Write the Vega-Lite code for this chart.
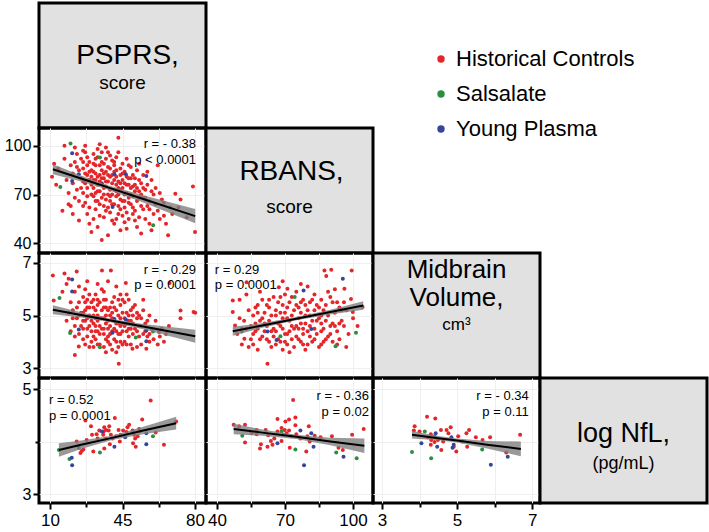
{
"$schema":"https://vega.github.io/schema/vega-lite/v6.json",
"padding":{"left":2,"top":1,"right":2,"bottom":2},
"config":{"font":"Liberation Sans","view":{"stroke":"black","strokeWidth":3},
"axis":{"domain":false,"grid":true,"gridColor":"#efefef","tickColor":"black","tickWidth":2,"labelColor":"black","labelFontSize":16,"labelPadding":2},
"axisX":{"labelFontSize":17,"labelPadding":3},
"concat":{"spacing":0}},
"datasets":{
"A":[{"x":12,"y":89,"g":"H"},{"x":11,"y":81,"g":"H"},{"x":17,"y":100,"g":"H"},{"x":16,"y":60,"g":"H"},{"x":14,"y":86,"g":"H"},{"x":18,"y":79,"g":"H"},{"x":19,"y":71,"g":"H"},{"x":20,"y":88,"g":"H"},{"x":17,"y":92,"g":"H"},{"x":19,"y":64,"g":"H"},{"x":13,"y":76,"g":"H"},
{"x":20,"y":63,"g":"H"},{"x":21,"y":83,"g":"H"},{"x":22,"y":90,"g":"H"},{"x":23,"y":73,"g":"H"},{"x":24,"y":54,"g":"H"},{"x":21,"y":77,"g":"H"},{"x":23,"y":95,"g":"H"},{"x":24,"y":85,"g":"H"},{"x":22,"y":68,"g":"H"},{"x":25,"y":80,"g":"H"},{"x":25,"y":92,"g":"H"},{"x":24,"y":66,"g":"H"},{"x":22,"y":99,"g":"H"},{"x":23,"y":87,"g":"H"},{"x":25,"y":74,"g":"H"},{"x":21,"y":58,"g":"H"},
{"x":26,"y":97,"g":"H"},{"x":27,"y":83,"g":"H"},{"x":28,"y":88,"g":"H"},{"x":26,"y":71,"g":"H"},{"x":29,"y":79,"g":"H"},{"x":27,"y":65,"g":"H"},{"x":28,"y":93,"g":"H"},{"x":30,"y":85,"g":"H"},{"x":29,"y":62,"g":"H"},{"x":26,"y":78,"g":"H"},{"x":27,"y":100,"g":"H"},{"x":28,"y":74,"g":"H"},{"x":30,"y":47,"g":"H"},{"x":29,"y":90,"g":"H"},{"x":26,"y":86,"g":"H"},{"x":28,"y":58,"g":"H"},{"x":30,"y":70,"g":"H"},{"x":27,"y":96,"g":"H"},{"x":29,"y":52,"g":"H"},{"x":30,"y":81,"g":"H"},{"x":26,"y":63,"g":"H"},{"x":28,"y":82,"g":"H"},
{"x":31,"y":95,"g":"H"},{"x":32,"y":88,"g":"H"},{"x":33,"y":76,"g":"H"},{"x":31,"y":69,"g":"H"},{"x":34,"y":82,"g":"H"},{"x":32,"y":61,"g":"H"},{"x":33,"y":98,"g":"H"},{"x":34,"y":72,"g":"H"},{"x":35,"y":90,"g":"H"},{"x":31,"y":84,"g":"H"},{"x":32,"y":79,"g":"H"},{"x":33,"y":66,"g":"H"},{"x":34,"y":57,"g":"H"},{"x":35,"y":85,"g":"H"},{"x":31,"y":74,"g":"H"},{"x":32,"y":92,"g":"H"},{"x":33,"y":81,"g":"H"},{"x":34,"y":88,"g":"H"},{"x":35,"y":68,"g":"H"},{"x":31,"y":55,"g":"H"},{"x":33,"y":93,"g":"H"},{"x":34,"y":64,"g":"H"},{"x":35,"y":77,"g":"H"},{"x":32,"y":71,"g":"H"},{"x":35,"y":96,"g":"H"},{"x":33,"y":50,"g":"H"},{"x":31,"y":79,"g":"H"},{"x":34,"y":101,"g":"H"},{"x":32,"y":83,"g":"H"},
{"x":36,"y":80,"g":"H"},{"x":37,"y":92,"g":"H"},{"x":38,"y":70,"g":"H"},{"x":36,"y":63,"g":"H"},{"x":39,"y":86,"g":"H"},{"x":37,"y":75,"g":"H"},{"x":38,"y":96,"g":"H"},{"x":40,"y":82,"g":"H"},{"x":39,"y":59,"g":"H"},{"x":36,"y":89,"g":"H"},{"x":37,"y":67,"g":"H"},{"x":38,"y":78,"g":"H"},{"x":39,"y":73,"g":"H"},{"x":40,"y":91,"g":"H"},{"x":36,"y":56,"g":"H"},{"x":37,"y":84,"g":"H"},{"x":38,"y":62,"g":"H"},{"x":39,"y":94,"g":"H"},{"x":40,"y":70,"g":"H"},{"x":36,"y":74,"g":"H"},{"x":38,"y":87,"g":"H"},{"x":39,"y":66,"g":"H"},{"x":40,"y":54,"g":"H"},{"x":37,"y":99,"g":"H"},{"x":36,"y":83,"g":"H"},{"x":38,"y":45,"g":"H"},{"x":40,"y":77,"g":"H"},{"x":39,"y":81,"g":"H"},{"x":37,"y":60,"g":"H"},{"x":35,"y":42,"g":"H"},
{"x":41,"y":88,"g":"H"},{"x":42,"y":76,"g":"H"},{"x":43,"y":70,"g":"H"},{"x":41,"y":64,"g":"H"},{"x":44,"y":82,"g":"H"},{"x":42,"y":93,"g":"H"},{"x":43,"y":58,"g":"H"},{"x":45,"y":79,"g":"H"},{"x":44,"y":67,"g":"H"},{"x":41,"y":73,"g":"H"},{"x":42,"y":85,"g":"H"},{"x":43,"y":96,"g":"H"},{"x":44,"y":61,"g":"H"},{"x":45,"y":89,"g":"H"},{"x":41,"y":52,"g":"H"},{"x":42,"y":69,"g":"H"},{"x":43,"y":78,"g":"H"},{"x":45,"y":74,"g":"H"},{"x":44,"y":48,"g":"H"},{"x":42,"y":81,"g":"H"},{"x":43,"y":63,"g":"H"},{"x":41,"y":90,"g":"H"},{"x":45,"y":57,"g":"H"},{"x":44,"y":86,"g":"H"},{"x":43,"y":105,"g":"H"},{"x":42,"y":55,"g":"H"},{"x":44,"y":73,"g":"H"},{"x":41,"y":79,"g":"H"},{"x":45,"y":66,"g":"H"},
{"x":46,"y":84,"g":"H"},{"x":47,"y":71,"g":"H"},{"x":48,"y":65,"g":"H"},{"x":46,"y":77,"g":"H"},{"x":49,"y":80,"g":"H"},{"x":47,"y":59,"g":"H"},{"x":48,"y":88,"g":"H"},{"x":50,"y":69,"g":"H"},{"x":49,"y":74,"g":"H"},{"x":46,"y":62,"g":"H"},{"x":47,"y":92,"g":"H"},{"x":48,"y":55,"g":"H"},{"x":50,"y":82,"g":"H"},{"x":49,"y":64,"g":"H"},{"x":46,"y":70,"g":"H"},{"x":48,"y":76,"g":"H"},{"x":50,"y":58,"g":"H"},{"x":47,"y":49,"g":"H"},{"x":49,"y":87,"g":"H"},{"x":46,"y":53,"g":"H"},{"x":48,"y":68,"g":"H"},{"x":50,"y":75,"g":"H"},{"x":47,"y":81,"g":"H"},
{"x":51,"y":72,"g":"H"},{"x":52,"y":66,"g":"H"},{"x":53,"y":79,"g":"H"},{"x":51,"y":60,"g":"H"},{"x":54,"y":70,"g":"H"},{"x":52,"y":85,"g":"H"},{"x":53,"y":56,"g":"H"},{"x":55,"y":74,"g":"H"},{"x":54,"y":63,"g":"H"},{"x":51,"y":80,"g":"H"},{"x":52,"y":50,"g":"H"},{"x":53,"y":68,"g":"H"},{"x":55,"y":82,"g":"H"},{"x":54,"y":77,"g":"H"},{"x":51,"y":54,"g":"H"},{"x":55,"y":61,"g":"H"},{"x":52,"y":74,"g":"H"},{"x":53,"y":89,"g":"H"},{"x":54,"y":46,"g":"H"},
{"x":56,"y":68,"g":"H"},{"x":57,"y":76,"g":"H"},{"x":58,"y":61,"g":"H"},{"x":56,"y":55,"g":"H"},{"x":59,"y":72,"g":"H"},{"x":57,"y":84,"g":"H"},{"x":58,"y":66,"g":"H"},{"x":60,"y":58,"g":"H"},{"x":59,"y":79,"g":"H"},{"x":56,"y":73,"g":"H"},{"x":60,"y":70,"g":"H"},{"x":58,"y":52,"g":"H"},{"x":57,"y":63,"g":"H"},{"x":59,"y":48,"g":"H"},
{"x":62,"y":88,"g":"H"},{"x":61,"y":64,"g":"H"},{"x":63,"y":71,"g":"H"},{"x":65,"y":57,"g":"H"},{"x":62,"y":60,"g":"H"},{"x":64,"y":67,"g":"H"},{"x":66,"y":52,"g":"H"},{"x":68,"y":62,"g":"H"},{"x":61,"y":74,"g":"H"},{"x":63,"y":55,"g":"H"},{"x":67,"y":45,"g":"H"},{"x":65,"y":65,"g":"H"},{"x":69,"y":58,"g":"H"},
{"x":70.5,"y":70.5,"g":"H"},{"x":73,"y":67,"g":"H"},{"x":79,"y":75,"g":"H"},{"x":80,"y":47,"g":"H"},{"x":76,"y":56,"g":"H"},{"x":72,"y":62,"g":"H"},
{"x":27,"y":77,"g":"H"},{"x":29,"y":84,"g":"H"},{"x":31,"y":89,"g":"H"},{"x":33,"y":72,"g":"H"},{"x":35,"y":80,"g":"H"},{"x":37,"y":78,"g":"H"},{"x":39,"y":69,"g":"H"},{"x":41,"y":84,"g":"H"},{"x":43,"y":74,"g":"H"},{"x":45,"y":83,"g":"H"},{"x":47,"y":76,"g":"H"},{"x":49,"y":70,"g":"H"},{"x":51,"y":76,"g":"H"},{"x":53,"y":72,"g":"H"},{"x":55,"y":68,"g":"H"},{"x":30,"y":76,"g":"H"},{"x":34,"y":78,"g":"H"},{"x":38,"y":82,"g":"H"},{"x":42,"y":72,"g":"H"},{"x":46,"y":66,"g":"H"},{"x":50,"y":62,"g":"H"},{"x":36,"y":70,"g":"H"},{"x":40,"y":64,"g":"H"},{"x":44,"y":77,"g":"H"},{"x":48,"y":80,"g":"H"},{"x":32,"y":66,"g":"H"},{"x":28,"y":69,"g":"H"},{"x":26,"y":90,"g":"H"},
{"x":19.9,"y":101.4,"g":"S"},{"x":15,"y":74.6,"g":"S"},{"x":34.1,"y":92.8,"g":"S"},{"x":59.8,"y":51.1,"g":"S"},
{"x":20.7,"y":95.5,"g":"Y"},{"x":23.9,"y":82.5,"g":"Y"},{"x":20.7,"y":78.4,"g":"Y"},{"x":35.1,"y":76.3,"g":"Y"},{"x":41.1,"y":82.5,"g":"Y"},{"x":46.6,"y":82.5,"g":"Y"},{"x":56.5,"y":81.4,"g":"Y"},{"x":40.2,"y":62.3,"g":"Y"}],
"B":[{"x":11.4,"y":6.52,"g":"H"},{"x":11.8,"y":5.57,"g":"H"},{"x":17,"y":6.6,"g":"H"},{"x":18,"y":6.2,"g":"H"},{"x":19,"y":5.1,"g":"H"},{"x":16,"y":5.9,"g":"H"},{"x":19,"y":6.4,"g":"H"},{"x":20,"y":5.5,"g":"H"},{"x":18,"y":4.8,"g":"H"},{"x":20,"y":4.4,"g":"H"},
{"x":22.9,"y":6.68,"g":"H"},{"x":23.9,"y":3.82,"g":"H"},{"x":21,"y":5.2,"g":"H"},{"x":22,"y":5.9,"g":"H"},{"x":23,"y":4.9,"g":"H"},{"x":24,"y":5.5,"g":"H"},{"x":25,"y":4.6,"g":"H"},{"x":21,"y":4.9,"g":"H"},{"x":22,"y":4.2,"g":"H"},{"x":24,"y":6.1,"g":"H"},{"x":25,"y":5.1,"g":"H"},{"x":23,"y":5.3,"g":"H"},{"x":24,"y":4.3,"g":"H"},{"x":22,"y":3.5,"g":"H"},
{"x":26,"y":5.7,"g":"H"},{"x":27,"y":4.8,"g":"H"},{"x":28,"y":5.3,"g":"H"},{"x":26,"y":4.5,"g":"H"},{"x":29,"y":5.0,"g":"H"},{"x":27,"y":6.0,"g":"H"},{"x":28,"y":4.2,"g":"H"},{"x":30,"y":5.5,"g":"H"},{"x":29,"y":4.6,"g":"H"},{"x":26,"y":5.1,"g":"H"},{"x":27,"y":3.9,"g":"H"},{"x":28,"y":4.9,"g":"H"},{"x":30,"y":4.4,"g":"H"},{"x":29,"y":5.8,"g":"H"},{"x":26,"y":4.1,"g":"H"},{"x":28,"y":5.6,"g":"H"},{"x":30,"y":4.0,"g":"H"},{"x":27,"y":5.2,"g":"H"},{"x":29,"y":3.8,"g":"H"},
{"x":31,"y":5.0,"g":"H"},{"x":32,"y":4.6,"g":"H"},{"x":33,"y":5.4,"g":"H"},{"x":31,"y":4.2,"g":"H"},{"x":34,"y":4.9,"g":"H"},{"x":32,"y":5.8,"g":"H"},{"x":33,"y":4.4,"g":"H"},{"x":35,"y":5.2,"g":"H"},{"x":34,"y":3.9,"g":"H"},{"x":31,"y":5.6,"g":"H"},{"x":32,"y":4.1,"g":"H"},{"x":33,"y":4.8,"g":"H"},{"x":35,"y":4.5,"g":"H"},{"x":34,"y":5.5,"g":"H"},{"x":31,"y":3.8,"g":"H"},{"x":33,"y":5.0,"g":"H"},{"x":35,"y":6.0,"g":"H"},{"x":32,"y":5.2,"g":"H"},{"x":34,"y":4.3,"g":"H"},{"x":35.1,"y":6.71,"g":"H"},{"x":31,"y":4.7,"g":"H"},{"x":33,"y":3.9,"g":"H"},{"x":32,"y":4.9,"g":"H"},
{"x":36,"y":5.3,"g":"H"},{"x":37,"y":4.7,"g":"H"},{"x":38,"y":4.2,"g":"H"},{"x":36,"y":4.5,"g":"H"},{"x":39,"y":5.0,"g":"H"},{"x":37,"y":5.6,"g":"H"},{"x":38,"y":4.8,"g":"H"},{"x":40,"y":4.4,"g":"H"},{"x":39,"y":3.9,"g":"H"},{"x":36,"y":5.9,"g":"H"},{"x":37,"y":4.1,"g":"H"},{"x":38,"y":5.2,"g":"H"},{"x":40,"y":5.5,"g":"H"},{"x":39,"y":4.6,"g":"H"},{"x":36,"y":3.8,"g":"H"},{"x":38,"y":4.0,"g":"H"},{"x":39.4,"y":6.71,"g":"H"},{"x":40,"y":4.9,"g":"H"},{"x":37,"y":5.0,"g":"H"},{"x":36,"y":4.3,"g":"H"},{"x":38,"y":6.3,"g":"H"},{"x":39,"y":5.3,"g":"H"},{"x":40,"y":3.7,"g":"H"},{"x":37,"y":3.6,"g":"H"},
{"x":41,"y":4.8,"g":"H"},{"x":42,"y":5.2,"g":"H"},{"x":43,"y":4.3,"g":"H"},{"x":41,"y":5.7,"g":"H"},{"x":44,"y":4.6,"g":"H"},{"x":42,"y":4.0,"g":"H"},{"x":43,"y":5.0,"g":"H"},{"x":45,"y":4.4,"g":"H"},{"x":44,"y":5.4,"g":"H"},{"x":41,"y":4.1,"g":"H"},{"x":42,"y":4.7,"g":"H"},{"x":43,"y":3.8,"g":"H"},{"x":45,"y":5.1,"g":"H"},{"x":44,"y":4.0,"g":"H"},{"x":43.2,"y":3.16,"g":"H"},{"x":41,"y":5.3,"g":"H"},{"x":42,"y":6.1,"g":"H"},{"x":45,"y":3.9,"g":"H"},{"x":44,"y":4.9,"g":"H"},{"x":43,"y":5.6,"g":"H"},{"x":42,"y":3.6,"g":"H"},{"x":45,"y":4.7,"g":"H"},
{"x":46,"y":4.6,"g":"H"},{"x":47,"y":5.1,"g":"H"},{"x":48,"y":4.2,"g":"H"},{"x":46,"y":5.5,"g":"H"},{"x":49,"y":4.5,"g":"H"},{"x":47,"y":3.9,"g":"H"},{"x":48,"y":4.8,"g":"H"},{"x":50,"y":4.3,"g":"H"},{"x":49,"y":5.2,"g":"H"},{"x":46.6,"y":6.24,"g":"H"},{"x":47,"y":4.4,"g":"H"},{"x":48,"y":5.6,"g":"H"},{"x":50,"y":4.7,"g":"H"},{"x":46,"y":4.0,"g":"H"},{"x":49,"y":3.9,"g":"H"},{"x":49.8,"y":3.73,"g":"H"},{"x":48,"y":5.0,"g":"H"},{"x":47,"y":5.8,"g":"H"},{"x":50,"y":5.3,"g":"H"},
{"x":51,"y":4.5,"g":"H"},{"x":52,"y":4.9,"g":"H"},{"x":53,"y":4.2,"g":"H"},{"x":54,"y":4.6,"g":"H"},{"x":55,"y":5.2,"g":"H"},{"x":52,"y":3.8,"g":"H"},{"x":53,"y":5.0,"g":"H"},{"x":56,"y":4.4,"g":"H"},{"x":57,"y":4.8,"g":"H"},{"x":58,"y":4.0,"g":"H"},{"x":56.5,"y":3.73,"g":"H"},{"x":55,"y":4.3,"g":"H"},{"x":51,"y":5.4,"g":"H"},{"x":54,"y":3.9,"g":"H"},{"x":59,"y":4.5,"g":"H"},{"x":58,"y":5.0,"g":"H"},{"x":53,"y":4.6,"g":"H"},{"x":57,"y":4.2,"g":"H"},{"x":60,"y":4.1,"g":"H"},{"x":55,"y":5.6,"g":"H"},{"x":52,"y":4.4,"g":"H"},
{"x":62.6,"y":4.37,"g":"H"},{"x":61,"y":4.8,"g":"H"},{"x":63,"y":4.2,"g":"H"},{"x":64,"y":4.5,"g":"H"},{"x":67.4,"y":4.6,"g":"H"},{"x":67.7,"y":6.24,"g":"H"},{"x":73,"y":5.19,"g":"H"},{"x":73,"y":4.9,"g":"H"},{"x":79.3,"y":5.13,"g":"H"},{"x":80.1,"y":5.1,"g":"H"},{"x":62,"y":3.9,"g":"H"},{"x":65,"y":4.0,"g":"H"},{"x":66,"y":4.3,"g":"H"},
{"x":26,"y":4.8,"g":"H"},{"x":27,"y":5.5,"g":"H"},{"x":28,"y":4.5,"g":"H"},{"x":29,"y":5.3,"g":"H"},{"x":30,"y":4.8,"g":"H"},{"x":31,"y":5.3,"g":"H"},{"x":32,"y":4.4,"g":"H"},{"x":33,"y":5.6,"g":"H"},{"x":34,"y":4.6,"g":"H"},{"x":35,"y":4.9,"g":"H"},{"x":36,"y":4.9,"g":"H"},{"x":37,"y":5.3,"g":"H"},{"x":38,"y":4.5,"g":"H"},{"x":39,"y":4.3,"g":"H"},{"x":40,"y":5.1,"g":"H"},{"x":41,"y":4.5,"g":"H"},{"x":42,"y":4.4,"g":"H"},{"x":43,"y":4.7,"g":"H"},{"x":44,"y":4.3,"g":"H"},{"x":45,"y":5.6,"g":"H"},{"x":46,"y":4.9,"g":"H"},{"x":47,"y":4.7,"g":"H"},{"x":48,"y":4.5,"g":"H"},{"x":49,"y":4.8,"g":"H"},{"x":50,"y":5.0,"g":"H"},{"x":52,"y":5.1,"g":"H"},{"x":54,"y":4.9,"g":"H"},{"x":56,"y":4.7,"g":"H"},{"x":58,"y":4.3,"g":"H"},{"x":24,"y":5.0,"g":"H"},{"x":22,"y":4.6,"g":"H"},{"x":36,"y":5.6,"g":"H"},{"x":44,"y":5.8,"g":"H"},{"x":28,"y":6.3,"g":"H"},{"x":33,"y":6.2,"g":"H"},
{"x":14.6,"y":5.67,"g":"S"},{"x":19.7,"y":4.33,"g":"S"},{"x":34.1,"y":3.79,"g":"S"},{"x":51.4,"y":4.16,"g":"S"},{"x":59.7,"y":4.39,"g":"S"},
{"x":20.7,"y":6.37,"g":"Y"},{"x":20.7,"y":5.91,"g":"Y"},{"x":23.9,"y":4.47,"g":"Y"},{"x":41.1,"y":4.87,"g":"Y"},{"x":40.2,"y":4.34,"g":"Y"},{"x":46.6,"y":4.85,"g":"Y"},{"x":56.5,"y":4.43,"g":"Y"},{"x":56.5,"y":4.02,"g":"Y"}],
"C":[{"x":47,"y":5.57,"g":"H"},{"x":47,"y":5.13,"g":"H"},{"x":53.1,"y":6.27,"g":"H"},{"x":48,"y":4.62,"g":"H"},{"x":52.1,"y":4.11,"g":"H"},{"x":50,"y":4.9,"g":"H"},{"x":51,"y":3.9,"g":"H"},{"x":53,"y":4.5,"g":"H"},{"x":54,"y":5.2,"g":"H"},{"x":49,"y":4.3,"g":"H"},{"x":52,"y":4.8,"g":"H"},{"x":54,"y":3.8,"g":"H"},{"x":55,"y":4.6,"g":"H"},{"x":50,"y":5.6,"g":"H"},{"x":53,"y":5.8,"g":"H"},{"x":55,"y":4.1,"g":"H"},{"x":51,"y":4.5,"g":"H"},
{"x":56,"y":5.0,"g":"H"},{"x":57,"y":4.4,"g":"H"},{"x":58,"y":5.4,"g":"H"},{"x":56,"y":3.9,"g":"H"},{"x":59,"y":4.8,"g":"H"},{"x":60,"y":4.2,"g":"H"},{"x":61,"y":5.1,"g":"H"},{"x":58,"y":3.7,"g":"H"},{"x":62,"y":4.6,"g":"H"},{"x":60,"y":5.6,"g":"H"},{"x":63,"y":4.0,"g":"H"},{"x":64,"y":5.0,"g":"H"},{"x":57,"y":4.7,"g":"H"},{"x":59,"y":5.9,"g":"H"},{"x":62.3,"y":3.16,"g":"H"},{"x":61,"y":4.4,"g":"H"},{"x":63,"y":5.3,"g":"H"},{"x":65,"y":4.5,"g":"H"},{"x":64,"y":3.8,"g":"H"},{"x":60,"y":4.9,"g":"H"},{"x":58,"y":5.1,"g":"H"},{"x":62,"y":4.1,"g":"H"},{"x":65,"y":5.7,"g":"H"},{"x":56,"y":4.3,"g":"H"},{"x":63,"y":4.8,"g":"H"},
{"x":66,"y":5.2,"g":"H"},{"x":67.3,"y":6.08,"g":"H"},{"x":68,"y":4.6,"g":"H"},{"x":66,"y":3.9,"g":"H"},{"x":69,"y":5.4,"g":"H"},{"x":70,"y":4.3,"g":"H"},{"x":71.1,"y":6.02,"g":"H"},{"x":72,"y":4.8,"g":"H"},{"x":67,"y":5.5,"g":"H"},{"x":70,"y":5.8,"g":"H"},{"x":73,"y":4.1,"g":"H"},{"x":74,"y":5.2,"g":"H"},{"x":68,"y":4.0,"g":"H"},{"x":71,"y":4.9,"g":"H"},{"x":69,"y":3.7,"g":"H"},{"x":72,"y":5.5,"g":"H"},{"x":75,"y":4.6,"g":"H"},{"x":66,"y":4.4,"g":"H"},{"x":73,"y":5.0,"g":"H"},{"x":70,"y":4.0,"g":"H"},{"x":74,"y":3.8,"g":"H"},{"x":67,"y":4.7,"g":"H"},{"x":75,"y":5.9,"g":"H"},{"x":71,"y":4.3,"g":"H"},{"x":72,"y":3.6,"g":"H"},{"x":68,"y":5.1,"g":"H"},{"x":69,"y":4.5,"g":"H"},
{"x":76,"y":5.3,"g":"H"},{"x":77,"y":4.7,"g":"H"},{"x":78,"y":5.6,"g":"H"},{"x":76,"y":4.1,"g":"H"},{"x":79,"y":5.0,"g":"H"},{"x":80,"y":4.4,"g":"H"},{"x":81,"y":5.5,"g":"H"},{"x":78,"y":3.9,"g":"H"},{"x":82,"y":4.8,"g":"H"},{"x":80,"y":6.1,"g":"H"},{"x":83,"y":5.2,"g":"H"},{"x":84,"y":4.3,"g":"H"},{"x":77,"y":5.1,"g":"H"},{"x":79,"y":3.7,"g":"H"},{"x":81,"y":4.6,"g":"H"},{"x":83,"y":5.8,"g":"H"},{"x":85,"y":4.9,"g":"H"},{"x":76,"y":4.5,"g":"H"},{"x":82,"y":4.0,"g":"H"},{"x":84,"y":5.4,"g":"H"},{"x":78,"y":4.5,"g":"H"},{"x":80,"y":5.2,"g":"H"},{"x":85,"y":3.8,"g":"H"},{"x":77,"y":4.0,"g":"H"},{"x":83,"y":4.5,"g":"H"},{"x":79,"y":5.4,"g":"H"},
{"x":86,"y":5.0,"g":"H"},{"x":87.4,"y":6.71,"g":"H"},{"x":88.2,"y":6.5,"g":"H"},{"x":90.4,"y":6.74,"g":"H"},{"x":87,"y":4.5,"g":"H"},{"x":88,"y":5.4,"g":"H"},{"x":89,"y":4.2,"g":"H"},{"x":90,"y":5.7,"g":"H"},{"x":91,"y":4.7,"g":"H"},{"x":86,"y":3.9,"g":"H"},{"x":92,"y":5.1,"g":"H"},{"x":93,"y":4.4,"g":"H"},{"x":89,"y":5.9,"g":"H"},{"x":94,"y":5.3,"g":"H"},{"x":87,"y":4.0,"g":"H"},{"x":91,"y":5.5,"g":"H"},{"x":93,"y":3.9,"g":"H"},{"x":86,"y":5.6,"g":"H"},{"x":90,"y":4.3,"g":"H"},{"x":95,"y":4.8,"g":"H"},{"x":88,"y":4.8,"g":"H"},{"x":92,"y":6.0,"g":"H"},{"x":94,"y":4.1,"g":"H"},
{"x":96.2,"y":6.02,"g":"H"},{"x":99.1,"y":5.63,"g":"H"},{"x":99.9,"y":5.13,"g":"H"},{"x":99.4,"y":6.71,"g":"H"},{"x":104.2,"y":5.32,"g":"H"},{"x":96,"y":4.6,"g":"H"},{"x":97,"y":5.2,"g":"H"},{"x":98,"y":4.3,"g":"H"},{"x":100,"y":4.9,"g":"H"},{"x":97,"y":3.8,"g":"H"},{"x":102,"y":4.6,"g":"H"},{"x":96,"y":5.5,"g":"H"},
{"x":57,"y":5.3,"g":"H"},{"x":59,"y":4.1,"g":"H"},{"x":61,"y":4.7,"g":"H"},{"x":63,"y":5.6,"g":"H"},{"x":65,"y":4.2,"g":"H"},{"x":66,"y":5.0,"g":"H"},{"x":67,"y":4.1,"g":"H"},{"x":68,"y":5.7,"g":"H"},{"x":69,"y":4.9,"g":"H"},{"x":70,"y":5.1,"g":"H"},{"x":71,"y":3.9,"g":"H"},{"x":72,"y":4.4,"g":"H"},{"x":73,"y":5.7,"g":"H"},{"x":74,"y":4.5,"g":"H"},{"x":75,"y":4.2,"g":"H"},{"x":76,"y":4.9,"g":"H"},{"x":77,"y":5.5,"g":"H"},{"x":78,"y":4.3,"g":"H"},{"x":79,"y":4.7,"g":"H"},{"x":80,"y":3.9,"g":"H"},{"x":81,"y":5.0,"g":"H"},{"x":82,"y":5.6,"g":"H"},{"x":83,"y":4.1,"g":"H"},{"x":84,"y":4.8,"g":"H"},{"x":85,"y":5.3,"g":"H"},{"x":86,"y":4.4,"g":"H"},{"x":87,"y":5.2,"g":"H"},{"x":88,"y":4.1,"g":"H"},{"x":89,"y":5.0,"g":"H"},{"x":90,"y":4.6,"g":"H"},{"x":91,"y":4.0,"g":"H"},{"x":92,"y":4.6,"g":"H"},{"x":93,"y":5.5,"g":"H"},{"x":94,"y":4.7,"g":"H"},{"x":95,"y":5.2,"g":"H"},{"x":71,"y":5.3,"g":"H"},{"x":73,"y":4.6,"g":"H"},{"x":75,"y":5.4,"g":"H"},{"x":64,"y":4.4,"g":"H"},{"x":62,"y":5.4,"g":"H"},{"x":58,"y":4.5,"g":"H"},{"x":81,"y":4.2,"g":"H"},{"x":86,"y":4.7,"g":"H"},{"x":69,"y":6.3,"g":"H"},{"x":77,"y":6.2,"g":"H"},
{"x":74.3,"y":5.7,"g":"S"},{"x":51,"y":4.39,"g":"S"},{"x":68,"y":4.21,"g":"S"},{"x":101.3,"y":4.34,"g":"S"},{"x":92.3,"y":3.83,"g":"S"},
{"x":95.5,"y":6.4,"g":"Y"},{"x":78.2,"y":5.95,"g":"Y"},{"x":81.6,"y":4.49,"g":"Y"},{"x":62.3,"y":4.39,"g":"Y"},{"x":66.3,"y":4.07,"g":"Y"}],
"D":[{"x":58.6,"y":4.78,"g":"H"},{"x":27.1,"y":4.40,"g":"H"},{"x":41.3,"y":4.45,"g":"H"},{"x":54.5,"y":4.42,"g":"H"},{"x":29.8,"y":4.29,"g":"H"},{"x":22.9,"y":4.0,"g":"H"},{"x":25.3,"y":3.82,"g":"H"},{"x":24.7,"y":3.78,"g":"H"},{"x":30.9,"y":3.81,"g":"H"},{"x":27.7,"y":4.03,"g":"H"},{"x":36.2,"y":4.27,"g":"H"},{"x":35.9,"y":4.19,"g":"H"},{"x":35.7,"y":4.13,"g":"H"},{"x":38.3,"y":4.21,"g":"H"},{"x":38.6,"y":4.29,"g":"H"},{"x":39.4,"y":4.13,"g":"H"},{"x":40.2,"y":4.06,"g":"H"},{"x":38.9,"y":3.95,"g":"H"},{"x":36.2,"y":3.87,"g":"H"},{"x":43.1,"y":4.22,"g":"H"},{"x":43.7,"y":4.0,"g":"H"},{"x":45.3,"y":4.21,"g":"H"},{"x":47.4,"y":4.27,"g":"H"},{"x":48.2,"y":4.32,"g":"H"},{"x":50.6,"y":4.13,"g":"H"},{"x":50.1,"y":3.97,"g":"H"},{"x":51.4,"y":3.90,"g":"H"},{"x":51.1,"y":4.06,"g":"H"},{"x":53,"y":4.24,"g":"H"},{"x":53.3,"y":4.19,"g":"H"},{"x":61,"y":4.17,"g":"H"},{"x":65,"y":3.94,"g":"H"},{"x":70.9,"y":4.38,"g":"H"},{"x":33.8,"y":4.21,"g":"H"},{"x":33,"y":4.06,"g":"H"},{"x":30.3,"y":4.13,"g":"H"},{"x":37,"y":4.06,"g":"H"},{"x":41.8,"y":4.10,"g":"H"},{"x":44.1,"y":4.13,"g":"H"},{"x":46.9,"y":4.18,"g":"H"},{"x":49.9,"y":4.21,"g":"H"},{"x":52.3,"y":4.10,"g":"H"},{"x":26.1,"y":3.85,"g":"H"},{"x":32.5,"y":4.14,"g":"H"},{"x":37,"y":4.22,"g":"H"},
{"x":14.3,"y":3.84,"g":"S"},{"x":19.4,"y":3.67,"g":"S"},{"x":34.1,"y":3.79,"g":"S"},{"x":59.7,"y":4.10,"g":"S"},
{"x":20.5,"y":3.69,"g":"Y"},{"x":20.7,"y":3.55,"g":"Y"},{"x":23.9,"y":3.88,"g":"Y"},{"x":35.1,"y":4.19,"g":"Y"},{"x":41.1,"y":3.90,"g":"Y"},{"x":46.3,"y":4.08,"g":"Y"},{"x":56.5,"y":4.16,"g":"Y"},{"x":56.5,"y":3.95,"g":"Y"}],
"E":[{"x":73.6,"y":4.79,"g":"H"},{"x":47.4,"y":4.32,"g":"H"},{"x":49.8,"y":4.29,"g":"H"},{"x":52.4,"y":4.32,"g":"H"},{"x":52.4,"y":3.98,"g":"H"},{"x":57.5,"y":4.22,"g":"H"},{"x":57.5,"y":4.14,"g":"H"},{"x":59.4,"y":3.95,"g":"H"},{"x":61.5,"y":4.22,"g":"H"},{"x":62.3,"y":3.90,"g":"H"},{"x":63.8,"y":4.01,"g":"H"},{"x":64.5,"y":3.94,"g":"H"},{"x":65.3,"y":4.06,"g":"H"},{"x":66.7,"y":4.43,"g":"H"},{"x":66.7,"y":4.19,"g":"H"},{"x":68.5,"y":4.26,"g":"H"},{"x":68.5,"y":4.01,"g":"H"},{"x":69.9,"y":4.22,"g":"H"},{"x":70.2,"y":4.38,"g":"H"},{"x":70.7,"y":4.16,"g":"H"},{"x":71.8,"y":4.42,"g":"H"},{"x":71.8,"y":4.21,"g":"H"},{"x":72.6,"y":4.10,"g":"H"},{"x":74.6,"y":4.46,"g":"H"},{"x":74.6,"y":4.31,"g":"H"},{"x":72.1,"y":3.88,"g":"H"},{"x":76.8,"y":4.06,"g":"H"},{"x":79.4,"y":3.81,"g":"H"},{"x":79.9,"y":4.10,"g":"H"},{"x":80.5,"y":4.29,"g":"H"},{"x":80.9,"y":4.0,"g":"H"},{"x":83.1,"y":4.11,"g":"H"},{"x":85.7,"y":4.08,"g":"H"},{"x":90.7,"y":4.10,"g":"H"},{"x":93.6,"y":3.88,"g":"H"},{"x":95.5,"y":3.84,"g":"H"},{"x":99.6,"y":4.13,"g":"H"},{"x":104.7,"y":4.24,"g":"H"},{"x":59,"y":3.87,"g":"H"},{"x":62.6,"y":4.12,"g":"H"},{"x":75,"y":4.14,"g":"H"},{"x":69.2,"y":4.13,"g":"H"},{"x":55.3,"y":4.16,"g":"H"},
{"x":51.2,"y":4.11,"g":"S"},{"x":68.5,"y":4.19,"g":"S"},{"x":74.6,"y":3.85,"g":"S"},{"x":92.6,"y":3.79,"g":"S"},{"x":101.6,"y":3.68,"g":"S"},
{"x":66.7,"y":3.97,"g":"Y"},{"x":76.8,"y":4.21,"g":"Y"},{"x":81.6,"y":4.16,"g":"Y"},{"x":82.6,"y":3.90,"g":"Y"},{"x":78.4,"y":3.55,"g":"Y"},{"x":95.8,"y":3.71,"g":"Y"}],
"F":[{"x":4.20,"y":4.47,"g":"H"},{"x":4.42,"y":4.44,"g":"H"},{"x":3.87,"y":4.29,"g":"H"},{"x":3.85,"y":4.21,"g":"H"},{"x":4.30,"y":4.14,"g":"H"},{"x":4.31,"y":4.03,"g":"H"},{"x":4.40,"y":3.99,"g":"H"},{"x":4.30,"y":3.94,"g":"H"},{"x":4.57,"y":4.22,"g":"H"},{"x":4.58,"y":3.84,"g":"H"},{"x":4.72,"y":4.22,"g":"H"},{"x":4.77,"y":4.16,"g":"H"},{"x":4.83,"y":4.27,"g":"H"},{"x":5.03,"y":4.10,"g":"H"},{"x":4.98,"y":3.81,"g":"H"},{"x":4.91,"y":3.90,"g":"H"},{"x":5.14,"y":4.0,"g":"H"},{"x":5.25,"y":4.16,"g":"H"},{"x":5.32,"y":4.22,"g":"H"},{"x":5.27,"y":3.90,"g":"H"},{"x":5.50,"y":4.08,"g":"H"},{"x":5.68,"y":4.03,"g":"H"},{"x":5.88,"y":4.08,"g":"H"},{"x":6.31,"y":3.79,"g":"H"},{"x":6.68,"y":4.13,"g":"H"},{"x":4.49,"y":4.03,"g":"H"},{"x":4.63,"y":4.0,"g":"H"},{"x":4.22,"y":4.08,"g":"H"},{"x":4.0,"y":4.19,"g":"H"},
{"x":3.8,"y":3.80,"g":"S"},{"x":4.31,"y":3.68,"g":"S"},{"x":4.14,"y":4.19,"g":"S"},{"x":5.67,"y":3.85,"g":"S"},{"x":4.40,"y":4.10,"g":"S"},
{"x":4.05,"y":3.97,"g":"Y"},{"x":4.43,"y":4.16,"g":"Y"},{"x":4.47,"y":3.90,"g":"Y"},{"x":4.85,"y":4.08,"g":"Y"},{"x":4.88,"y":3.88,"g":"Y"},{"x":5.90,"y":3.56,"g":"Y"},{"x":6.35,"y":3.71,"g":"Y"},{"x":4.91,"y":3.94,"g":"Y"}],
"LA":[{"x":11.4,"y":85.6,"lo":82.5,"hi":88.7},{"x":25,"y":79.9,"lo":78.0,"hi":81.8},{"x":38,"y":74.4,"lo":73.0,"hi":75.8},{"x":55,"y":67.3,"lo":65.1,"hi":69.5},{"x":80.1,"y":56.7,"lo":52.3,"hi":61.1}],
"LB":[{"x":11.4,"y":5.22,"lo":5.05,"hi":5.39},{"x":25,"y":5.02,"lo":4.92,"hi":5.12},{"x":38,"y":4.83,"lo":4.76,"hi":4.90},{"x":55,"y":4.58,"lo":4.48,"hi":4.68},{"x":80.1,"y":4.21,"lo":3.96,"hi":4.46}],
"LC":[{"x":47,"y":4.40,"lo":4.23,"hi":4.57},{"x":60,"y":4.62,"lo":4.53,"hi":4.71},{"x":75,"y":4.88,"lo":4.82,"hi":4.94},{"x":90,"y":5.13,"lo":5.04,"hi":5.22},{"x":104.5,"y":5.38,"lo":5.22,"hi":5.54}],
"LD":[{"x":14.3,"y":3.84,"lo":3.71,"hi":3.97},{"x":25,"y":3.94,"lo":3.86,"hi":4.02},{"x":40,"y":4.07,"lo":4.03,"hi":4.11},{"x":55,"y":4.21,"lo":4.14,"hi":4.28},{"x":70.9,"y":4.35,"lo":4.23,"hi":4.47}],
"LE":[{"x":47.4,"y":4.24,"lo":4.14,"hi":4.34},{"x":60,"y":4.17,"lo":4.11,"hi":4.23},{"x":75,"y":4.09,"lo":4.05,"hi":4.13},{"x":90,"y":4.0,"lo":3.93,"hi":4.07},{"x":105,"y":3.92,"lo":3.78,"hi":4.06}],
"LF":[{"x":3.8,"y":4.13,"lo":4.06,"hi":4.20},{"x":4.5,"y":4.065,"lo":4.025,"hi":4.105},{"x":5.0,"y":4.02,"lo":3.98,"hi":4.06},{"x":5.8,"y":3.94,"lo":3.87,"hi":4.01},{"x":6.7,"y":3.86,"lo":3.72,"hi":4.0}]
},
"spacing":0,"bounds":"flush","columns":4,
"concat":[
 {"width":167,"height":125,"view":{"fill":"#e1e1e1","stroke":"black","strokeWidth":3},"layer":[
  {"data":{"values":[{"t":"PSPRS,"}]},"mark":{"type":"text","fontSize":28,"dx":5,"dy":-10,"baseline":"middle"},"encoding":{"text":{"field":"t"}}},
  {"data":{"values":[{"t":"score"}]},"mark":{"type":"text","fontSize":19,"dy":17,"baseline":"middle"},"encoding":{"text":{"field":"t"}}}]},
 {"width":167,"height":125,"view":{"stroke":"transparent"},"data":{"values":[]},"mark":"text"},
 {"width":167,"height":125,"view":{"stroke":"transparent"},"data":{"values":[]},"mark":"text"},
 {"width":167,"height":125,"view":{"stroke":"transparent"},"data":{"values":[]},"mark":"text"},
 {"width":167,"height":125,"layer":[
  {"data":{"name":"A"},"mark":{"type":"circle","size":16,"opacity":1},"encoding":{
   "x":{"field":"x","type":"quantitative","scale":{"domain":[4.7,85.3],"nice":false,"zero":false},"axis":{"title":null,"values":[10,27.5,45,62.5,80],"labels":false,"ticks":false}},
   "y":{"field":"y","type":"quantitative","scale":{"domain":[34,111],"nice":false,"zero":false},"axis":{"title":null,"values":[40,55,70,85,100],"labelExpr":"datum.value % 30 == 10 ? datum.label : ''","tickSize":{"condition":{"test":"datum.value % 30 == 10","value":6},"value":4}}},
   "color":{"field":"g","type":"nominal","scale":{"domain":["H","S","Y"],"range":["#e4262a","#2a8f3e","#35459b"]},"legend":{"title":null,"orient":"none","legendX":391,"legendY":45,"labelExpr":"datum.value == 'H' ? 'Historical Controls' : datum.value == 'S' ? 'Salsalate' : 'Young Plasma'","labelFontSize":22,"labelLimit":400,"labelColor":"black","symbolSize":55,"symbolType":"circle","rowPadding":13,"labelOffset":4,"padding":0}}}},
  {"data":{"name":"LA"},"mark":{"type":"area","color":"#808080","opacity":0.8},"encoding":{"x":{"field":"x","type":"quantitative","scale":{"domain":[4.7,85.3],"nice":false,"zero":false}},"y":{"field":"lo","type":"quantitative","scale":{"domain":[34,111],"nice":false,"zero":false}},"y2":{"field":"hi"}}},
  {"data":{"name":"LA"},"mark":{"type":"line","color":"black","strokeWidth":2},"encoding":{"x":{"field":"x","type":"quantitative"},"y":{"field":"y","type":"quantitative"}}},
  {"data":{"values":[{}]},"mark":{"type":"text","text":["r = - 0.38","p < 0.0001"],"align":"right","baseline":"middle","fontSize":13,"lineHeight":16},"encoding":{"x":{"datum":80.5,"type":"quantitative"},"y":{"datum":101.2,"type":"quantitative"}}}]},
 {"width":167,"height":125,"view":{"fill":"#e1e1e1","stroke":"black","strokeWidth":3},"layer":[
  {"data":{"values":[{"t":"RBANS,"}]},"mark":{"type":"text","fontSize":28,"dx":2,"dy":-19,"baseline":"middle"},"encoding":{"text":{"field":"t"}}},
  {"data":{"values":[{"t":"score"}]},"mark":{"type":"text","fontSize":19,"dy":16,"baseline":"middle"},"encoding":{"text":{"field":"t"}}}]},
 {"width":167,"height":125,"view":{"stroke":"transparent"},"data":{"values":[]},"mark":"text"},
 {"width":167,"height":125,"view":{"stroke":"transparent"},"data":{"values":[]},"mark":"text"},
 {"width":167,"height":125,"layer":[
  {"data":{"name":"B"},"mark":{"type":"circle","size":16,"opacity":1},"encoding":{
   "x":{"field":"x","type":"quantitative","scale":{"domain":[4.7,85.3],"nice":false,"zero":false},"axis":{"title":null,"values":[10,27.5,45,62.5,80],"labels":false,"ticks":false}},
   "y":{"field":"y","type":"quantitative","scale":{"domain":[2.62,7.38],"nice":false,"zero":false},"axis":{"title":null,"values":[3,4,5,6,7],"labelExpr":"datum.value % 2 == 1 ? datum.label : ''","tickSize":{"condition":{"test":"datum.value % 2 == 1","value":6},"value":4}}},
   "color":{"field":"g","type":"nominal"}}},
  {"data":{"name":"LB"},"mark":{"type":"area","color":"#808080","opacity":0.8},"encoding":{"x":{"field":"x","type":"quantitative","scale":{"domain":[4.7,85.3],"nice":false,"zero":false}},"y":{"field":"lo","type":"quantitative","scale":{"domain":[2.62,7.38],"nice":false,"zero":false}},"y2":{"field":"hi"}}},
  {"data":{"name":"LB"},"mark":{"type":"line","color":"black","strokeWidth":2},"encoding":{"x":{"field":"x","type":"quantitative"},"y":{"field":"y","type":"quantitative"}}},
  {"data":{"values":[{}]},"mark":{"type":"text","text":["r = - 0.29","p = 0.0001"],"align":"right","baseline":"middle","fontSize":13,"lineHeight":15},"encoding":{"x":{"datum":80.5,"type":"quantitative"},"y":{"datum":6.73,"type":"quantitative"}}}]},
 {"width":167,"height":125,"layer":[
  {"data":{"name":"C"},"mark":{"type":"circle","size":16,"opacity":1},"encoding":{
   "x":{"field":"x","type":"quantitative","scale":{"domain":[35.2,108.8],"nice":false,"zero":false},"axis":{"title":null,"values":[40,55,70,85,100],"labels":false,"ticks":false}},
   "y":{"field":"y","type":"quantitative","scale":{"domain":[2.62,7.38],"nice":false,"zero":false},"axis":{"title":null,"values":[3,4,5,6,7],"labels":false,"ticks":false}},
   "color":{"field":"g","type":"nominal"}}},
  {"data":{"name":"LC"},"mark":{"type":"area","color":"#808080","opacity":0.8},"encoding":{"x":{"field":"x","type":"quantitative","scale":{"domain":[35.2,108.8],"nice":false,"zero":false}},"y":{"field":"lo","type":"quantitative","scale":{"domain":[2.62,7.38],"nice":false,"zero":false}},"y2":{"field":"hi"}}},
  {"data":{"name":"LC"},"mark":{"type":"line","color":"black","strokeWidth":2},"encoding":{"x":{"field":"x","type":"quantitative"},"y":{"field":"y","type":"quantitative"}}},
  {"data":{"values":[{}]},"mark":{"type":"text","text":["r = 0.29","p = 0.0001"],"align":"left","baseline":"middle","fontSize":13,"lineHeight":15},"encoding":{"x":{"datum":39.1,"type":"quantitative"},"y":{"datum":6.73,"type":"quantitative"}}}]},
 {"width":167,"height":125,"view":{"fill":"#e1e1e1","stroke":"black","strokeWidth":3},"layer":[
  {"data":{"values":[{"t":"Midbrain"}]},"mark":{"type":"text","fontSize":26,"dy":-46,"baseline":"middle"},"encoding":{"text":{"field":"t"}}},
  {"data":{"values":[{"t":"Volume,"}]},"mark":{"type":"text","fontSize":26,"dy":-18,"baseline":"middle"},"encoding":{"text":{"field":"t"}}},
  {"data":{"values":[{"t":"cm³"}]},"mark":{"type":"text","fontSize":17,"dy":9,"baseline":"middle"},"encoding":{"text":{"field":"t"}}}]},
 {"width":167,"height":125,"view":{"stroke":"transparent"},"data":{"values":[]},"mark":"text"},
 {"width":167,"height":125,"layer":[
  {"data":{"name":"D"},"mark":{"type":"circle","size":16,"opacity":1},"encoding":{
   "x":{"field":"x","type":"quantitative","scale":{"domain":[4.7,85.3],"nice":false,"zero":false},"axis":{"title":null,"values":[10,27.5,45,62.5,80],"labelExpr":"datum.value % 35 == 10 ? datum.label : ''","tickSize":{"condition":{"test":"datum.value % 35 == 10","value":6},"value":4}}},
   "y":{"field":"y","type":"quantitative","scale":{"domain":[2.83,5.21],"nice":false,"zero":false},"axis":{"title":null,"values":[3,3.5,4,4.5,5],"labelExpr":"datum.value == 3 || datum.value == 5 ? '' + datum.value : ''","tickSize":{"condition":{"test":"datum.value == 3 || datum.value == 5","value":6},"value":4}}},
   "color":{"field":"g","type":"nominal"}}},
  {"data":{"name":"LD"},"mark":{"type":"area","color":"#808080","opacity":0.8},"encoding":{"x":{"field":"x","type":"quantitative","scale":{"domain":[4.7,85.3],"nice":false,"zero":false}},"y":{"field":"lo","type":"quantitative","scale":{"domain":[2.83,5.21],"nice":false,"zero":false}},"y2":{"field":"hi"}}},
  {"data":{"name":"LD"},"mark":{"type":"line","color":"black","strokeWidth":2},"encoding":{"x":{"field":"x","type":"quantitative"},"y":{"field":"y","type":"quantitative"}}},
  {"data":{"values":[{}]},"mark":{"type":"text","text":["r = 0.52","p = 0.0001"],"align":"left","baseline":"middle","fontSize":13,"lineHeight":16},"encoding":{"x":{"datum":9.5,"type":"quantitative"},"y":{"datum":4.79,"type":"quantitative"}}}]},
 {"width":167,"height":125,"layer":[
  {"data":{"name":"E"},"mark":{"type":"circle","size":16,"opacity":1},"encoding":{
   "x":{"field":"x","type":"quantitative","scale":{"domain":[35.2,108.8],"nice":false,"zero":false},"axis":{"title":null,"values":[40,55,70,85,100],"labelExpr":"datum.value % 30 == 10 ? datum.label : ''","tickSize":{"condition":{"test":"datum.value % 30 == 10","value":6},"value":4}}},
   "y":{"field":"y","type":"quantitative","scale":{"domain":[2.83,5.21],"nice":false,"zero":false},"axis":{"title":null,"values":[3,3.5,4,4.5,5],"labels":false,"ticks":false}},
   "color":{"field":"g","type":"nominal"}}},
  {"data":{"name":"LE"},"mark":{"type":"area","color":"#808080","opacity":0.8},"encoding":{"x":{"field":"x","type":"quantitative","scale":{"domain":[35.2,108.8],"nice":false,"zero":false}},"y":{"field":"lo","type":"quantitative","scale":{"domain":[2.83,5.21],"nice":false,"zero":false}},"y2":{"field":"hi"}}},
  {"data":{"name":"LE"},"mark":{"type":"line","color":"black","strokeWidth":2},"encoding":{"x":{"field":"x","type":"quantitative"},"y":{"field":"y","type":"quantitative"}}},
  {"data":{"values":[{}]},"mark":{"type":"text","text":["r = - 0.36","p = 0.02"],"align":"right","baseline":"middle","fontSize":13,"lineHeight":16},"encoding":{"x":{"datum":107,"type":"quantitative"},"y":{"datum":4.865,"type":"quantitative"}}}]},
 {"width":167,"height":125,"layer":[
  {"data":{"name":"F"},"mark":{"type":"circle","size":16,"opacity":1},"encoding":{
   "x":{"field":"x","type":"quantitative","scale":{"domain":[2.76,7.21],"nice":false,"zero":false},"axis":{"title":null,"values":[3,4,5,6,7],"labelExpr":"datum.value % 2 == 1 ? datum.label : ''","tickSize":{"condition":{"test":"datum.value % 2 == 1","value":6},"value":4}}},
   "y":{"field":"y","type":"quantitative","scale":{"domain":[2.83,5.21],"nice":false,"zero":false},"axis":{"title":null,"values":[3,3.5,4,4.5,5],"labels":false,"ticks":false}},
   "color":{"field":"g","type":"nominal"}}},
  {"data":{"name":"LF"},"mark":{"type":"area","color":"#808080","opacity":0.8},"encoding":{"x":{"field":"x","type":"quantitative","scale":{"domain":[2.76,7.21],"nice":false,"zero":false}},"y":{"field":"lo","type":"quantitative","scale":{"domain":[2.83,5.21],"nice":false,"zero":false}},"y2":{"field":"hi"}}},
  {"data":{"name":"LF"},"mark":{"type":"line","color":"black","strokeWidth":2},"encoding":{"x":{"field":"x","type":"quantitative"},"y":{"field":"y","type":"quantitative"}}},
  {"data":{"values":[{}]},"mark":{"type":"text","text":["r = - 0.34","p = 0.11"],"align":"right","baseline":"middle","fontSize":13,"lineHeight":16},"encoding":{"x":{"datum":6.91,"type":"quantitative"},"y":{"datum":4.865,"type":"quantitative"}}}]},
 {"width":167,"height":125,"view":{"fill":"#e1e1e1","stroke":"black","strokeWidth":3},"layer":[
  {"data":{"values":[{"t":"log NfL,"}]},"mark":{"type":"text","fontSize":27,"dy":-7,"baseline":"middle"},"encoding":{"text":{"field":"t"}}},
  {"data":{"values":[{"t":"(pg/mL)"}]},"mark":{"type":"text","fontSize":18,"dy":23,"baseline":"middle"},"encoding":{"text":{"field":"t"}}}]}
]
}
